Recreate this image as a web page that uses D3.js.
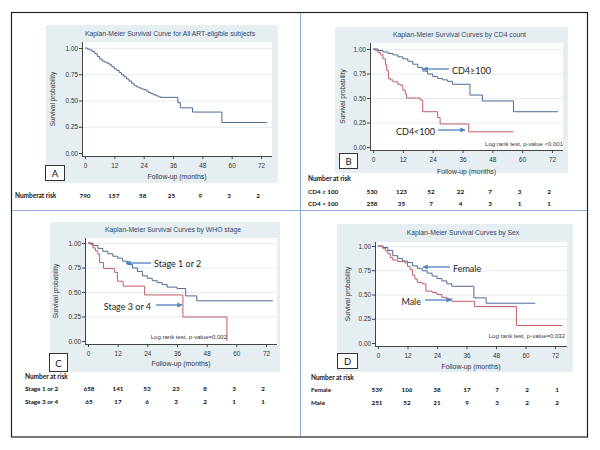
<!DOCTYPE html>
<html>
<head>
<meta charset="utf-8">
<script src="https://cdn.jsdelivr.net/npm/d3@7"></script>
<style>
  body { margin:0; background:#fff; }
  svg { display:block; }
</style>
</head>
<body>
<div id="content"></div>
<script>
// ---- data ----
const xTicks = [0, 12, 24, 36, 48, 60, 72];
const yTicks = [0, 0.25, 0.5, 0.75, 1];

// A: all subjects
const aTime = [0,1,2,3,4,5,6,7,8,9,10,11,12,13,14,15,16,17,18,19,20,21,22,23,24,25,26,27,28,29,30,31,38,39,44,56];
const aSurv = [1,0.99,0.98,0.965,0.945,0.92,0.895,0.875,0.865,0.855,0.84,0.82,0.80,0.785,0.765,0.745,0.725,0.705,0.685,0.665,0.645,0.63,0.62,0.61,0.605,0.59,0.575,0.565,0.555,0.545,0.535,0.53,0.48,0.43,0.39,0.29];
const aEnd = 74.5;
const aRisk = [790,157,58,25,9,3,2];

// B: CD4 count
const bHiTime = [0,2,4,6,8,10,12,14,16,18,20,22,24,26,28,30,32,39,44,56.5];
const bHiSurv = [1,0.985,0.97,0.955,0.94,0.92,0.90,0.875,0.845,0.81,0.775,0.745,0.72,0.70,0.685,0.67,0.64,0.53,0.47,0.36];
const bHiEnd = 74.5;
const bLoTime = [0,1,2,3,4,5,5.5,6.2,7,8,10,11,12,13,13.5,19,20,26,27,38.5];
const bLoSurv = [1,0.985,0.965,0.94,0.90,0.84,0.78,0.70,0.685,0.665,0.64,0.63,0.58,0.54,0.50,0.48,0.36,0.30,0.235,0.155];
const bLoEnd = 56.5;
const bRiskHi = [530,123,52,22,7,3,2];
const bRiskLo = [258,35,7,4,3,1,1];

// C: WHO stage
const cEarlyTime = [0,2,4,6,8,10,12,14,16,18,20,22,24,26,28,30,32,36,39.5,44];
const cEarlySurv = [1,0.975,0.945,0.915,0.89,0.865,0.845,0.815,0.78,0.745,0.71,0.665,0.64,0.615,0.595,0.575,0.55,0.535,0.46,0.41];
const cEarlyEnd = 74.8;
const cLateTime = [0,1,2,3,4,4.7,6.3,10.8,11.9,14.2,22.9,38.4,56.2];
const cLateSurv = [1,0.985,0.95,0.92,0.885,0.80,0.74,0.70,0.61,0.56,0.47,0.245,0];
const cLateEnd = 56.2;
const cRiskEarly = [658,141,53,23,8,3,2];
const cRiskLate = [65,17,6,3,2,1,1];

// D: sex
const dFemTime = [0,2,4,6,8,10,12,14,16,18,20,22,24,26,28,30,39,44];
const dFemSurv = [1,0.985,0.955,0.90,0.87,0.845,0.83,0.795,0.77,0.745,0.72,0.69,0.665,0.64,0.61,0.585,0.465,0.41];
const dFemEnd = 64;
const dMalTime = [0,2,3,4,5,6,8,11,12,13,14,15,16,18,19.5,22,24,26,28,30,39.3,56.3];
const dMalSurv = [1,0.975,0.95,0.92,0.88,0.855,0.84,0.825,0.79,0.76,0.70,0.66,0.625,0.61,0.535,0.52,0.50,0.47,0.455,0.43,0.375,0.18];
const dMalEnd = 75;
const dRiskFem = [539,106,38,17,7,2,1];
const dRiskMal = [251,52,21,9,3,2,2];

const BLUE = '#4c6a92', RED = '#c05c66', ARROW = '#4f81bd';
const BG = '#e6eef1', GRID = '#e4ecef';
const STATA = '"Liberation Sans", Arial, sans-serif';
const CALI = 'Lato, "Open Sans", sans-serif';

const panels = [
  { letter:'A', title:'Kaplan-Meier Survival Curve for All ART-eligible subjects',
    bg:[46,25,232,158], x0:85, x72:261, y1:48, y0:153, top:42, right:272,
    titleY:33, tickY:163, xLabY:176, yLabX:52, tickR:78, box:[45,165,19,15],
    series:[{t:aTime, s:aSurv, end:aEnd, c:BLUE}],
    logrank:null,
    risk:{head:'Numberat risk', hx:15, hy:195, range:[85,258],
          rows:[{label:null, y:195, v:aRisk}]},
    notes:[] },
  { letter:'B', title:'Kaplan-Meier Survival Curves by CD4 count',
    bg:[335,27,233,146], x0:373, x72:552, y1:49, y0:147, top:43, right:563,
    titleY:34, tickY:159, xLabY:171, yLabX:342, tickR:369, box:[339,153,18,15],
    series:[{t:bHiTime, s:bHiSurv, end:bHiEnd, c:BLUE},{t:bLoTime, s:bLoSurv, end:bLoEnd, c:RED}],
    logrank:{text:'Log rank test, p-value <0.001', x:563, y:144},
    risk:{head:'Number at risk', hx:308, hy:178, range:[372,549],
          rows:[{label:'CD4 \u2265 100', y:191, v:bRiskHi},{label:'CD4 < 100', y:203, v:bRiskLo}]},
    notes:[{text:'CD4\u2265100', tx:452, ty:70, anchor:'start', from:[451,69], to:[423,69]},
           {text:'CD4<100', tx:435, ty:131, anchor:'end', from:[436,130], to:[465,130]}] },
  { letter:'C', title:'Kaplan-Meier Survival Curves by WHO stage',
    bg:[50,222,230,150], x0:88, x72:266, y1:243, y0:341, top:238, right:277,
    titleY:229, tickY:352, xLabY:363, yLabX:55, tickR:81, box:[49,353,18,18],
    series:[{t:cEarlyTime, s:cEarlySurv, end:cEarlyEnd, c:BLUE},{t:cLateTime, s:cLateSurv, end:cLateEnd, c:RED}],
    logrank:{text:'Log rank test, p-value=0.002', x:227, y:337},
    risk:{head:'Number at risk', hx:25, hy:376, range:[89,263],
          rows:[{label:'Stage 1 or 2', y:388, v:cRiskEarly},{label:'Stage 3 or 4', y:401, v:cRiskLate}]},
    notes:[{text:'Stage 1 or 2', tx:154, ty:263, anchor:'start', from:[153,263], to:[126,263]},
           {text:'Stage 3 or 4', tx:151, ty:306, anchor:'end', from:[154,305], to:[182,305]}] },
  { letter:'D', title:'Kaplan-Meier Survival Curves by Sex',
    bg:[337,224,236,148], x0:378, x72:555, y1:246, y0:343, top:242, right:567,
    titleY:232, tickY:353, xLabY:366, yLabX:347, tickR:370, box:[337,353,20,15],
    series:[{t:dFemTime, s:dFemSurv, end:dFemEnd, c:BLUE},{t:dMalTime, s:dMalSurv, end:dMalEnd, c:RED}],
    logrank:{text:'Log rank test, p-value=0.032', x:565, y:336},
    risk:{head:'Number at risk', hx:311, hy:377, range:[377,557],
          rows:[{label:'Female', y:389, v:dRiskFem},{label:'Male', y:402, v:dRiskMal}]},
    notes:[{text:'Female', tx:453, ty:268, anchor:'start', from:[452,267], to:[423,267]},
           {text:'Male', tx:421, ty:301, anchor:'end', from:[423,300], to:[451,300]}] }
];

const svg = d3.select('#content').append('svg')
  .attr('width', 600).attr('height', 450);

svg.append('defs').append('marker')
  .attr('id', 'arr').attr('viewBox', '0 0 10 10')
  .attr('refX', 9).attr('refY', 5)
  .attr('markerWidth', 4).attr('markerHeight', 4)
  .attr('orient', 'auto')
  .append('path').attr('d', 'M0,0 L10,5 L0,10 z').attr('fill', ARROW);

// frame and dividers
svg.append('rect').attr('x', 11.5).attr('y', 12.5).attr('width', 576).attr('height', 424.5)
  .attr('fill', 'none').attr('stroke', '#222').attr('stroke-width', 1.2);
svg.append('line').attr('x1', 12).attr('x2', 587).attr('y1', 210.5).attr('y2', 210.5)
  .attr('stroke', '#8eaedb').attr('stroke-width', 1.2);
svg.append('line').attr('x1', 300.5).attr('x2', 300.5).attr('y1', 13).attr('y2', 436)
  .attr('stroke', '#8eaedb').attr('stroke-width', 1.2);

panels.forEach(p => {
  const g = svg.append('g');
  const x = d3.scaleLinear().domain([0, 72]).range([p.x0, p.x72]);
  const y = d3.scaleLinear().domain([0, 1]).range([p.y0, p.y1]);
  const ax = p.x0 - 3, ay = p.y0 + 3;

  g.append('rect').attr('x', p.bg[0]).attr('y', p.bg[1]).attr('width', p.bg[2]).attr('height', p.bg[3])
    .attr('fill', BG);
  g.append('rect').attr('x', ax).attr('y', p.top).attr('width', p.right - ax).attr('height', ay - p.top)
    .attr('fill', '#fff');

  // grid
  g.selectAll('.grid').data(yTicks.filter(d => d > 0)).enter().append('line')
    .attr('x1', ax).attr('x2', p.right)
    .attr('y1', d => y(d) + 0.5).attr('y2', d => y(d) + 0.5)
    .attr('stroke', GRID).attr('stroke-width', 1);

  g.append('text').attr('x', (p.bg[0] + p.bg[0] + p.bg[2]) / 2 + 8).attr('y', p.titleY)
    .attr('text-anchor', 'middle').attr('dominant-baseline', 'central')
    .style('font-family', STATA).style('font-size', '6.8px').style('fill', '#34476b')
    .text(p.title);

  // axes
  const yAxis = g.append('g').attr('transform', `translate(${ax},0)`)
    .call(d3.axisLeft(y).tickValues(yTicks).tickFormat(d3.format('.2f')).tickSize(3).tickPadding(1));
  const xAxis = g.append('g').attr('transform', `translate(0,${ay})`)
    .call(d3.axisBottom(x).tickValues(xTicks).tickSize(3).tickPadding(4));
  [yAxis, xAxis].forEach(a => {
    a.select('.domain').remove();
    a.selectAll('line').attr('stroke', '#444');
    a.selectAll('text').style('font-family', STATA).style('font-size', '6.4px').style('fill', '#333');
  });
  g.append('line').attr('x1', ax + 0.5).attr('x2', ax + 0.5).attr('y1', p.top).attr('y2', ay)
    .attr('stroke', '#444');
  g.append('line').attr('x1', ax).attr('x2', p.right).attr('y1', ay + 0.5).attr('y2', ay + 0.5)
    .attr('stroke', '#444');

  g.append('text').attr('x', (ax + p.right) / 2).attr('y', p.xLabY)
    .attr('text-anchor', 'middle').attr('dominant-baseline', 'central')
    .style('font-family', STATA).style('font-size', '6.9px').style('fill', '#333')
    .text('Follow-up (months)');
  g.append('text')
    .attr('transform', `translate(${p.yLabX},${(p.top + ay) / 2}) rotate(-90)`)
    .attr('text-anchor', 'middle').attr('dominant-baseline', 'central')
    .style('font-family', STATA).style('font-size', '6.5px').style('fill', '#333')
    .text('Survival probability');

  // curves
  const line = d3.line().x(d => x(d[0])).y(d => y(d[1])).curve(d3.curveStepAfter);
  p.series.forEach(s => {
    const pts = s.t.map((t, i) => [t, s.s[i]]);
    pts.push([s.end, s.s[s.s.length - 1]]);
    g.append('path').datum(pts).attr('d', line)
      .attr('fill', 'none').attr('stroke', s.c).attr('stroke-width', 1);
  });

  if (p.logrank) {
    g.append('text').attr('x', p.logrank.x).attr('y', p.logrank.y)
      .attr('text-anchor', 'end').attr('dominant-baseline', 'central')
      .style('font-family', STATA).style('font-size', '6px').style('fill', '#333')
      .text(p.logrank.text);
  }

  // letter box
  g.append('rect').attr('x', p.box[0] + 0.5).attr('y', p.box[1] + 0.5)
    .attr('width', p.box[2]).attr('height', p.box[3])
    .attr('fill', '#fff').attr('stroke', '#333').attr('stroke-width', 1);
  g.append('text').attr('x', p.box[0] + p.box[2] / 2 + 0.5).attr('y', p.box[1] + p.box[3] / 2 + 1)
    .attr('text-anchor', 'middle').attr('dominant-baseline', 'central')
    .style('font-family', CALI).style('font-size', '9.5px').style('fill', '#111')
    .text(p.letter);

  // annotations
  p.notes.forEach(n => {
    g.append('text').attr('x', n.tx).attr('y', n.ty)
      .attr('text-anchor', n.anchor).attr('dominant-baseline', 'central')
      .style('font-family', CALI).style('font-size', '9px').style('fill', '#222')
      .text(n.text);
    const dir = Math.sign(n.to[0] - n.from[0]);
    g.append('line').attr('x1', n.from[0] + dir * 2).attr('y1', n.from[1])
      .attr('x2', n.to[0]).attr('y2', n.to[1])
      .attr('stroke', ARROW).attr('stroke-width', 1.3).attr('marker-end', 'url(#arr)');
  });

  // number at risk table
  const rx = d3.scaleLinear().domain([0, 72]).range(p.risk.range);
  g.append('text').attr('x', p.risk.hx).attr('y', p.risk.hy)
    .attr('dominant-baseline', 'central')
    .style('font-family', CALI).style('font-size', '6.5px').style('font-weight', 'bold').style('fill', '#111')
    .text(p.risk.head);
  p.risk.rows.forEach(r => {
    if (r.label) {
      g.append('text').attr('x', p.risk.hx).attr('y', r.y)
        .attr('dominant-baseline', 'central')
        .style('font-family', CALI).style('font-size', '6.3px').style('font-weight', 'bold').style('fill', '#111')
        .text(r.label);
    }
    g.selectAll(null).data(r.v).enter().append('text')
      .attr('x', (d, i) => rx(xTicks[i])).attr('y', r.y)
      .attr('text-anchor', 'middle').attr('dominant-baseline', 'central')
      .style('font-family', CALI).style('font-size', '6.3px').style('font-weight', 'bold').style('fill', '#111')
      .text(d => d);
  });
});
</script>
</body>
</html>
